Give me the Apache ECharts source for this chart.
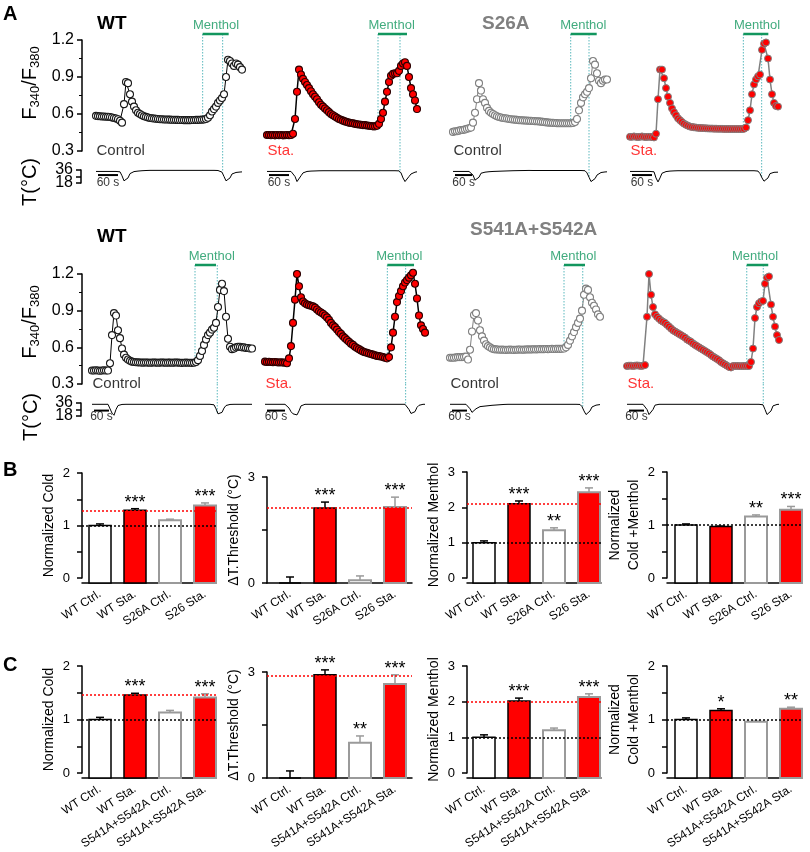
<!DOCTYPE html>
<html><head><meta charset="utf-8">
<script src="https://cdn.jsdelivr.net/npm/echarts@6/dist/echarts.min.js"></script>
<style>html,body{margin:0;padding:0;background:#fff}#c{width:810px;height:852px}</style>
</head><body><div id="c"></div>
<script>
// ================= DATA =================
// Panel A: F340/F380 ratio traces and bath temperature (one value per sample)
const secPerSample = [6, 6, 7, 6, 8, 6.67, 8, 8];
const mentholOn     = [320, 333, 412, 340, 412, 408, 456, 479];
const mentholOff    = [398, 420, 503, 415, 496, 497, 540, 565];
const coldPulse2    = [380, 399, 476, 395, 501, 469, 531, 545];
const mentholLabelT = [360, 374, 456, 381, 479, 448, 493, 512];
const ratioTicks = [0.3, 0.6, 0.9, 1.2];
const tempTicks = [18, 36];

const ratioWTctrl1 = [0.585,0.583,0.582,0.58,0.58,0.578,0.578,0.576,0.572,0.568,
0.564,0.558,0.545,0.53,0.68,0.86,0.85,0.76,0.70,0.66,
0.63,0.61,0.60,0.59,0.582,0.577,0.572,0.568,0.565,0.563,
0.561,0.56,0.558,0.557,0.556,0.555,0.555,0.554,0.553,0.553,
0.552,0.552,0.551,0.551,0.55,0.55,0.55,0.55,0.551,0.551,
0.552,0.552,0.553,0.554,0.556,0.56,0.57,0.59,0.62,0.64,
0.66,0.69,0.71,0.73,0.76,0.90,1.04,1.03,1.01,0.99,
1.01,1.0,0.98,0.96];
const tempWTctrl1 = [34,34,34,34,34,34,34,34,34,34,
34,34,33.5,28,21,19,25,31,33,33.8,
34.2,34.5,34.8,35,35.2,35.3,35.4,35.5,35.5,35.5,
35.5,35.5,35.5,35.5,35.5,35.5,35.5,35.5,35.5,35.5,
35.5,35.5,35.5,35.5,35.5,35.5,35.5,35.5,35.5,35.5,
35.5,35.5,35.5,35.5,35.5,35.5,35.5,35.5,35.5,35.5,
35.5,35.3,35,33,27,21,19,25,30.5,32,
32.6,33,33.2,33.4];

const ratioWTsta1 = [0.43,0.43,0.428,0.43,0.427,0.43,0.428,0.43,0.427,0.428,
0.43,0.428,0.43,0.44,0.56,0.78,0.96,0.92,0.885,0.86,
0.835,0.81,0.785,0.76,0.74,0.72,0.695,0.675,0.66,0.645,
0.63,0.615,0.60,0.59,0.58,0.57,0.56,0.553,0.546,0.54,
0.535,0.53,0.527,0.524,0.52,0.517,0.515,0.513,0.51,0.51,
0.507,0.505,0.503,0.50,0.50,0.505,0.52,0.56,0.61,0.70,
0.78,0.86,0.91,0.925,0.93,0.93,0.95,0.99,1.01,1.02,
0.99,0.90,0.81,0.76,0.71,0.64];
const tempWTsta1 = [34,34,34,34,34,34,34,34,34,34,
34,34,34,33,27,20,21,28,32,33.5,
34,34.3,34.5,34.6,34.7,34.8,34.9,35,35,35,
35,35,35,35,35,35,35,35,35,35,
35,35,35,35,35,35,35,35,35,35,
35,35,35,35,35,35,35,35,35,35,
35,35,35,35,35,35,34.8,32,25,20,
22,27,30.5,32,33,33.5];

const ratioS26Actrl = [0.455,0.46,0.46,0.465,0.47,0.47,0.475,0.48,0.485,0.49,
0.53,0.61,0.72,0.85,0.79,0.72,0.69,0.65,0.625,0.61,
0.60,0.59,0.582,0.576,0.572,0.568,0.565,0.563,0.56,0.558,
0.556,0.554,0.552,0.55,0.549,0.548,0.547,0.546,0.545,0.544,
0.543,0.542,0.541,0.54,0.538,0.536,0.534,0.532,0.53,0.529,
0.528,0.527,0.526,0.525,0.525,0.525,0.525,0.525,0.525,0.525,
0.527,0.535,0.56,0.63,0.69,0.735,0.76,0.78,0.81,0.89,
1.03,1.0,0.93,0.87,0.85,0.87,0.88,0.88];
const tempS26Actrl = [34,34,34,34,34,34,34,34,34,33.5,
29,22,20,26,31.5,32.5,33,33.3,33.6,33.8,
34,34.1,34.2,34.3,34.4,34.5,34.6,34.7,34.8,34.9,
35,35,35.1,35.1,35.2,35.2,35.3,35.3,35.4,35.4,
35.3,35.3,35.3,35.3,35.3,35.3,35.3,35.3,35.3,35.3,
35.3,35.3,35.3,35.3,35.3,35.3,35.3,35.3,35.3,35.3,
35.3,35.3,35.3,35.3,35.3,35.3,35,32,26,20,
19.5,24,29,31.5,32.5,33,33.3,33.5];

const ratioS26Asta = [0.415,0.415,0.418,0.415,0.413,0.415,0.418,0.415,0.413,0.415,
0.415,0.413,0.41,0.44,0.72,0.96,0.96,0.89,0.81,0.74,
0.69,0.645,0.615,0.59,0.565,0.55,0.535,0.522,0.512,0.505,
0.498,0.495,0.492,0.49,0.488,0.487,0.486,0.485,0.484,0.483,
0.482,0.482,0.481,0.481,0.48,0.48,0.48,0.479,0.479,0.479,
0.478,0.478,0.478,0.478,0.478,0.478,0.478,0.48,0.49,0.55,
0.63,0.76,0.84,0.88,0.905,0.92,1.12,1.17,1.18,1.05,
0.88,0.76,0.69,0.665,0.66];
const tempS26Asta = [34,34,34,34,34,34,34,34,34,34,
34,34,33.5,25,19.5,25,31.5,33,33.8,34.2,
34.5,34.7,34.8,34.9,35,35,35,35,35,35,
35,35,35,35,35,35,35,35,35,35,
35,35,35,35,35,35,35,35,35,35,
35,35,35,35,35,35,35,35,35,35,
35,35,35,35,34.5,31,25,20.5,19.5,25,
31,32.3,32.8,33,33];

const ratioWTctrl2 = [0.41,0.41,0.412,0.41,0.408,0.41,0.412,0.41,0.41,0.47,
0.70,0.88,0.86,0.74,0.675,0.59,0.54,0.515,0.50,0.49,
0.483,0.48,0.478,0.477,0.476,0.475,0.475,0.476,0.475,0.474,
0.475,0.476,0.475,0.474,0.475,0.476,0.475,0.474,0.475,0.475,
0.474,0.475,0.476,0.475,0.474,0.473,0.474,0.475,0.474,0.474,
0.473,0.474,0.48,0.495,0.53,0.57,0.62,0.665,0.70,0.72,
0.745,0.76,0.80,0.93,1.07,1.12,1.06,0.85,0.67,0.605,
0.585,0.59,0.60,0.605,0.605,0.60,0.60,0.595,0.595,0.59,
0.59];
const tempWTctrl2 = [34.2,34.2,34.2,34.2,34.2,34.2,34.2,34.2,34.2,32,
22,19,27,32.5,33.5,34,34.2,34.2,34.2,34.2,
34.2,34.2,34.2,34.2,34.2,34.2,34.2,34.2,34.2,34.2,
34.2,34.2,34.2,34.2,34.2,34.2,34.2,34.2,34.2,34.2,
34.2,34.2,34.2,34.2,34.2,34.2,34.2,34.2,34.2,34.2,
34.2,34.2,34.2,34.2,34.2,34.2,34.2,34.2,34.2,34.2,
34.2,33.5,28,21,18.5,23,29,32.5,33.5,34,
34.2,34.2,34.2,34.2,34.2,34.2,34.2,34.2,34.2,34.2,
34.2];

const ratioWTsta2 = [0.483,0.48,0.482,0.48,0.478,0.48,0.478,0.476,0.478,0.475,
0.476,0.47,0.51,0.61,0.80,0.99,1.2,1.10,1.01,0.975,
0.96,0.95,0.945,0.94,0.935,0.925,0.91,0.895,0.885,0.875,
0.86,0.845,0.825,0.80,0.78,0.765,0.745,0.725,0.71,0.69,
0.675,0.66,0.645,0.63,0.62,0.605,0.595,0.585,0.575,0.565,
0.56,0.555,0.55,0.545,0.54,0.535,0.53,0.528,0.525,0.52,
0.515,0.51,0.52,0.60,0.72,0.85,0.97,1.02,1.06,1.10,
1.13,1.15,1.17,1.19,1.21,1.12,1.0,0.86,0.78,0.75,
0.72];
const tempWTsta2 = [34.2,34.2,34.2,34.2,34.2,34.2,34.2,34.2,34.2,34.2,
34.2,33.5,29,24,21,19,19.5,25,32,34,
34.2,34.2,34.2,34.2,34.2,34.2,34.2,34.2,34.2,34.2,
34.2,34.2,34.2,34.2,34.2,34.2,34.2,34.2,34.2,34.2,
34.2,34.2,34.2,34.2,34.2,34.2,34.2,34.2,34.2,34.2,
34.2,34.2,34.2,34.2,34.2,34.2,34.2,34.2,34.2,34.2,
34.2,34.2,34.2,34.2,34.2,34.2,34.2,34.2,34.2,34.2,
34.2,33,27,21.5,18.8,24,30,32.8,33.8,34.2,
34.2];

const ratioS541ctrl = [0.515,0.515,0.515,0.518,0.52,0.52,0.52,0.522,0.524,0.50,
0.58,0.73,0.865,0.88,0.82,0.74,0.69,0.655,0.625,0.61,
0.60,0.59,0.585,0.583,0.582,0.58,0.581,0.58,0.579,0.58,
0.581,0.58,0.579,0.58,0.581,0.582,0.58,0.581,0.582,0.583,
0.582,0.583,0.584,0.583,0.584,0.585,0.584,0.585,0.586,0.585,
0.586,0.587,0.586,0.587,0.588,0.587,0.588,0.59,0.60,0.62,
0.655,0.69,0.725,0.765,0.80,0.835,0.90,1.03,1.08,1.07,
1.01,0.965,0.94,0.91,0.87,0.85];
const tempS541ctrl = [34.2,34.2,34.2,34.2,34.2,34.2,34.2,34.2,34.2,33.5,
28,23,22,28,30.5,31,31.3,31.6,31.9,32.2,
32.5,32.8,33,33.2,33.4,33.6,33.8,34,34.2,34.2,
34.2,34.2,34.2,34.2,34.2,34.2,34.2,34.2,34.2,34.2,
34.2,34.2,34.2,34.2,34.2,34.2,34.2,34.2,34.2,34.2,
34.2,34.2,34.2,34.2,34.2,34.2,34.2,34.2,34.2,34.2,
34.2,34.2,34.2,34.2,34.2,34,31,25,20,19,
25,30.5,32,33,33.5,33.8];

const ratioS541sta = [0.447,0.45,0.45,0.448,0.45,0.452,0.45,0.448,0.45,0.455,
0.85,1.2,1.03,0.93,0.87,0.85,0.835,0.82,0.81,0.80,
0.785,0.77,0.755,0.74,0.73,0.72,0.71,0.70,0.69,0.68,
0.665,0.655,0.645,0.632,0.62,0.61,0.60,0.59,0.58,0.57,
0.56,0.55,0.537,0.525,0.515,0.505,0.495,0.48,0.47,0.46,
0.45,0.44,0.435,0.447,0.447,0.448,0.447,0.446,0.447,0.448,
0.447,0.447,0.48,0.59,0.84,0.93,0.96,0.975,0.98,1.12,
1.17,1.18,0.95,0.85,0.77,0.70,0.66];
const tempS541sta = [34.2,34.2,34.2,34.2,34.2,34.2,34.2,34.2,34.2,33.5,
27,20,19.5,27,33,34,34.2,34.2,34.2,34.2,
34.2,34.2,34.2,34.2,34.2,34.2,34.2,34.2,34.2,34.2,
34.2,34.2,34.2,34.2,34.2,34.2,34.2,34.2,34.2,34.2,
34.2,34.2,34.2,34.2,34.2,34.2,34.2,34.2,34.2,34.2,
34.2,34.2,34.2,33.2,34.2,34.2,34.2,34.2,34.2,34.2,
34.2,34.2,34.2,34.2,34.2,34.2,34.2,34.2,33.5,27,
20,18.8,25,32,33.5,34,34.2];

// Panels B and C: bar charts (mean, s.e.m.)
const catB = ['WT Ctrl.', 'WT Sta.', 'S26A Ctrl.', 'S26 Sta.'];
const catC = ['WT Ctrl.', 'WT Sta.', 'S541A+S542A Ctrl.', 'S541A+S542A Sta.'];

const coldB = [1.0, 1.29, 1.10, 1.38];      const coldBerr = [0.03, 0.03, 0.02, 0.05];
const dThrB = [0.0, 2.12, 0.08, 2.15];      const dThrBerr = [0.17, 0.17, 0.12, 0.28];
const menthB = [1.0, 2.10, 1.35, 2.43];     const menthBerr = [0.05, 0.08, 0.07, 0.12];
const coldMenthB = [1.0, 0.97, 1.16, 1.29]; const coldMenthBerr = [0.02, 0.01, 0.03, 0.06];

const coldC = [1.0, 1.46, 1.13, 1.41];      const coldCerr = [0.04, 0.03, 0.04, 0.07];
const dThrC = [0.0, 2.92, 1.0, 2.66];       const dThrCerr = [0.2, 0.14, 0.19, 0.26];
const menthC = [1.0, 2.02, 1.2, 2.13];      const menthCerr = [0.07, 0.08, 0.06, 0.09];
const coldMenthC = [1.0, 1.17, 0.96, 1.2];  const coldMenthCerr = [0.03, 0.03, 0.01, 0.03];

const starsColdB = ['', '***', '', '***'];
const starsDThrB = ['', '***', '', '***'];
const starsMenthB = ['', '***', '**', '***'];
const starsColdMenthB = ['', '', '**', '***'];
const starsColdC = ['', '***', '', '***'];
const starsDThrC = ['', '***', '**', '***'];
const starsMenthC = ['', '***', '', '***'];
const starsColdMenthC = ['', '*', '', '**'];

const staRefB = [1.29, 2.12, 2.10, null];
const ctrlRefB = [1.0, null, 1.0, 1.0];
const staRefC = [1.47, 2.90, 2.0, null];
const ctrlRefC = [1.0, null, 1.0, 1.0];

// ================= STYLE / LAYOUT =================
const FONT = '"Liberation Sans", Arial, Helvetica, sans-serif';
const GREEN = '#12965e';
const TEAL = '#5ab8bd';
const GREY = '#808080';
const BGREY = '#9a9a9a';
const RED = '#ff0000';

const ROWS = [
  {y12: 40, y03: 151, yBar: 34, y36: 170, y18: 183, scaleT: 29},
  {y12: 274, y03: 384, yBar: 265, y36: 403, y18: 416, scaleT: 25.5}
];
const PANEL_X0 = [96, 267, 453, 630, 92, 265, 450, 627];
const PX_PER_SAMPLE = 2;

const PANELS = [
  {ratio: ratioWTctrl1, temp: tempWTctrl1, cond: 'Control', style: 0},
  {ratio: ratioWTsta1, temp: tempWTsta1, cond: 'Sta.', style: 1},
  {ratio: ratioS26Actrl, temp: tempS26Actrl, cond: 'Control', style: 2},
  {ratio: ratioS26Asta, temp: tempS26Asta, cond: 'Sta.', style: 3},
  {ratio: ratioWTctrl2, temp: tempWTctrl2, cond: 'Control', style: 0},
  {ratio: ratioWTsta2, temp: tempWTsta2, cond: 'Sta.', style: 1},
  {ratio: ratioS541ctrl, temp: tempS541ctrl, cond: 'Control', style: 2},
  {ratio: ratioS541sta, temp: tempS541sta, cond: 'Sta.', style: 3}
];
const TRACE_STYLE = [
  {line: '#000', lw: 1, fill: '#fff', border: '#1a1a1a', bw: 1.1},
  {line: '#000', lw: 1.5, fill: RED, border: '#2a0000', bw: 1.1},
  {line: GREY, lw: 1, fill: '#fff', border: GREY, bw: 1.1},
  {line: GREY, lw: 1.5, fill: RED, border: GREY, bw: 1.0}
];
const COND_COLOR = {'Control': '#000', 'Sta.': RED};

const grid = [], xAxis = [], yAxis = [], series = [];
function addGrid(g, xa, ya) {
  const k = grid.length;
  grid.push(g);
  xAxis.push(Object.assign({gridIndex: k}, xa));
  yAxis.push(Object.assign({gridIndex: k}, ya));
  return k;
}
const on = (g) => ({xAxisIndex: g, yAxisIndex: g, animation: false, silent: true});
const DOT = {color: TEAL, width: 1, type: [1.5, 1.5]};

PANELS.forEach((P, p) => {
  const r = ROWS[p < 4 ? 0 : 1];
  const dt = secPerSample[p];
  const N = P.ratio.length;
  const tMax = (N - 1) * dt;
  const w = (N - 1) * PX_PER_SAMPLE;
  const x0 = PANEL_X0[p];
  const fTop = 0.3 + 0.9 * (r.y03 - r.yBar) / (r.y03 - r.y12);
  const tTop = 18 + 18 * (r.y18 - r.y03) / (r.y18 - r.y36);
  const gF = addGrid({left: x0, top: r.yBar, width: w, height: r.y03 - r.yBar},
    {type: 'value', show: false, min: 0, max: tMax}, {type: 'value', show: false, min: 0.3, max: fTop});
  const gT = addGrid({left: x0, top: r.y03, width: w, height: r.y18 - r.y03},
    {type: 'value', show: false, min: 0, max: tMax}, {type: 'value', show: false, min: 18, max: tTop});
  const at = (arr, t) => arr[Math.min(arr.length - 1, Math.max(0, Math.round(t / dt)))];
  const st = TRACE_STYLE[P.style];

  series.push(Object.assign(on(gT), {type: 'line', data: P.temp.map((v, i) => [i * dt, v]), symbol: 'none',
    lineStyle: {color: '#000', width: 1}, z: 2}));
  series.push(Object.assign(on(gF), {type: 'line', symbol: 'none', clip: false, z: 1, lineStyle: DOT,
    data: [[mentholOn[p], fTop], [mentholOn[p], at(P.ratio, mentholOn[p])]]}));
  series.push(Object.assign(on(gF), {type: 'line', symbol: 'none', clip: false, z: 1, lineStyle: DOT,
    data: [[coldPulse2[p], fTop], [coldPulse2[p], 0.3]]}));
  series.push(Object.assign(on(gT), {type: 'line', symbol: 'none', clip: false, z: 1, lineStyle: DOT,
    data: [[coldPulse2[p], tTop], [coldPulse2[p], at(P.temp, coldPulse2[p])]]}));
  series.push(Object.assign(on(gF), {type: 'line', data: P.ratio.map((v, i) => [i * dt, v]),
    symbol: 'circle', symbolSize: 7, showAllSymbol: true, clip: false, z: 3,
    lineStyle: {color: st.line, width: st.lw},
    itemStyle: {color: st.fill, borderColor: st.border, borderWidth: st.bw}}));
  series.push(Object.assign(on(gF), {type: 'line', symbol: 'none', clip: false, z: 4,
    data: [[mentholOn[p], fTop], [mentholOff[p], fTop]], lineStyle: {color: GREEN, width: 2.5}}));
  series.push(Object.assign(on(gF), {type: 'scatter', symbolSize: 1, clip: false, z: 4,
    itemStyle: {color: 'rgba(0,0,0,0)'}, data: [[mentholLabelT[p], fTop]],
    label: {show: true, position: 'top', distance: 2, formatter: 'Menthol', color: GREEN, fontSize: 13, fontFamily: FONT}}));
  series.push(Object.assign(on(gT), {type: 'line', symbol: 'none', clip: false, z: 4,
    data: [[dt, r.scaleT], [dt + 60, r.scaleT]], lineStyle: {color: '#000', width: 2}}));
  series.push(Object.assign(on(gT), {type: 'scatter', symbolSize: 1, clip: false, z: 4,
    itemStyle: {color: 'rgba(0,0,0,0)'}, data: [[dt + 30, r.scaleT]],
    label: {show: true, position: 'bottom', distance: p < 4 ? 1 : 0, formatter: '60 s', color: '#000', fontSize: 12, fontFamily: FONT}}));
  series.push(Object.assign(on(gF), {type: 'scatter', symbolSize: 1, clip: false, z: 4,
    itemStyle: {color: 'rgba(0,0,0,0)'}, data: [[0, 0.3]],
    label: {show: true, position: 'right', distance: 0, formatter: P.cond, color: COND_COLOR[P.cond], fontSize: 15, fontFamily: FONT}}));

  if (p === 0 || p === 4) {
    addGrid({left: 82, top: r.y12, width: 10, height: r.y03 - r.y12},
      {type: 'value', show: false, min: 0, max: 1},
      {type: 'value', min: ratioTicks[0], max: ratioTicks[ratioTicks.length - 1], interval: 0.3,
       axisLine: {show: true, lineStyle: {color: '#000', width: 1.5}},
       axisTick: {show: true, length: 5, lineStyle: {color: '#000', width: 1.5}},
       minorTick: {show: true, splitNumber: 2, length: 3, lineStyle: {color: '#000', width: 1}},
       splitLine: {show: false}, minorSplitLine: {show: false},
       axisLabel: {fontSize: 16, margin: 8, color: '#000', fontFamily: FONT, formatter: (v) => v.toFixed(1)}});
    addGrid({left: 81, top: r.y36, width: 10, height: r.y18 - r.y36},
      {type: 'value', show: false, min: 0, max: 1},
      {type: 'value', min: tempTicks[0], max: tempTicks[1], interval: 9,
       axisLine: {show: true, lineStyle: {color: '#000', width: 1.5}},
       axisTick: {show: true, length: 5, lineStyle: {color: '#000', width: 1.5}},
       splitLine: {show: false},
       axisLabel: {fontSize: 16, margin: 8, color: '#000', fontFamily: FONT,
         formatter: (v) => tempTicks.indexOf(v) >= 0 ? String(v) : ''}});
  }
});

// ---------- bar charts ----------
const BAR_LAYOUT = [
  {axisX: 82, top: 473, zeroY: 578, lineY: 583, barLeft: 82.5, xEnd: 216, yMax: 2, interval: 1, minor: true},
  {axisX: 267, top: 477, zeroY: 583, lineY: 583, barLeft: 272.5, xEnd: 412, yMax: 3, interval: 1.5, minor: false},
  {axisX: 467, top: 472, zeroY: 578, lineY: 583, barLeft: 466.5, xEnd: 601, yMax: 3, interval: 1, minor: false},
  {axisX: 667, top: 472, zeroY: 578, lineY: 583, barLeft: 668.5, xEnd: 802, yMax: 2, interval: 1, minor: true},
  {axisX: 82, top: 666, zeroY: 773, lineY: 778, barLeft: 82.5, xEnd: 216, yMax: 2, interval: 1, minor: true},
  {axisX: 267, top: 672, zeroY: 778, lineY: 778, barLeft: 272.5, xEnd: 412, yMax: 3, interval: 1.5, minor: false},
  {axisX: 467, top: 666, zeroY: 773, lineY: 778, barLeft: 466.5, xEnd: 601, yMax: 3, interval: 1, minor: false},
  {axisX: 667, top: 666, zeroY: 773, lineY: 778, barLeft: 668.5, xEnd: 802, yMax: 2, interval: 1, minor: true}
];
const BAR_PANELS = [
  {cats: catB, vals: coldB, errs: coldBerr, stars: starsColdB, title: 'Normalized Cold', sta: staRefB[0], ctrl: ctrlRefB[0]},
  {cats: catB, vals: dThrB, errs: dThrBerr, stars: starsDThrB, title: 'ΔT.Threshold (°C)', sta: staRefB[1], ctrl: ctrlRefB[1]},
  {cats: catB, vals: menthB, errs: menthBerr, stars: starsMenthB, title: 'Normalized Menthol', sta: staRefB[2], ctrl: ctrlRefB[2]},
  {cats: catB, vals: coldMenthB, errs: coldMenthBerr, stars: starsColdMenthB, title: 'Normalized\nCold +Menthol', sta: staRefB[3], ctrl: ctrlRefB[3]},
  {cats: catC, vals: coldC, errs: coldCerr, stars: starsColdC, title: 'Normalized Cold', sta: staRefC[0], ctrl: ctrlRefC[0]},
  {cats: catC, vals: dThrC, errs: dThrCerr, stars: starsDThrC, title: 'ΔT.Threshold (°C)', sta: staRefC[1], ctrl: ctrlRefC[1]},
  {cats: catC, vals: menthC, errs: menthCerr, stars: starsMenthC, title: 'Normalized Menthol', sta: staRefC[2], ctrl: ctrlRefC[2]},
  {cats: catC, vals: coldMenthC, errs: coldMenthCerr, stars: starsColdMenthC, title: 'Normalized\nCold +Menthol', sta: staRefC[3], ctrl: ctrlRefC[3]}
];
const BAR_FILL = ['#fff', RED, '#fff', RED];
const BAR_STROKE = ['#000', '#000', BGREY, BGREY];
const BAR_LW = [1.5, 1.5, 2, 2];
const BAR_W = 22;
const BAND = 35;

BAR_PANELS.forEach((B, b) => {
  const L = BAR_LAYOUT[b];
  const gD = addGrid({left: L.axisX, top: L.top, width: L.xEnd - L.axisX, height: L.zeroY - L.top},
    {type: 'value', min: 0, max: 1, offset: L.lineY - L.zeroY,
     axisLine: {show: true, onZero: false, lineStyle: {color: '#000', width: 1.5}},
     axisTick: {show: false}, axisLabel: {show: false}, splitLine: {show: false}},
    {type: 'value', min: 0, max: L.yMax, interval: L.interval,
     axisLine: {show: true, onZero: false, lineStyle: {color: '#000', width: 1.5}},
     axisTick: {show: true, length: 5, lineStyle: {color: '#000', width: 1.5}},
     minorTick: {show: L.minor, splitNumber: 2, length: 5, lineStyle: {color: '#000', width: 1.5}},
     splitLine: {show: false}, minorSplitLine: {show: false},
     axisLabel: {fontSize: 13, margin: 12, color: '#000', fontFamily: FONT,
       formatter: (v) => (Math.abs(v - Math.round(v)) > 1e-6) ? '' : String(Math.round(v))},
     name: B.title, nameLocation: 'middle', nameRotate: 90, nameGap: 21,
     nameTextStyle: {fontSize: 14, color: '#000', fontFamily: FONT, lineHeight: 19}});
  const refs = [];
  if (B.sta != null) refs.push({yAxis: B.sta, lineStyle: {color: RED, type: [2, 2], width: 1.5}});
  if (B.ctrl != null) refs.push({yAxis: B.ctrl, lineStyle: {color: '#000', type: [2, 2], width: 1.5}});
  series.push(Object.assign(on(gD), {type: 'line', data: [], symbol: 'none', z: 10,
    markLine: {silent: true, symbol: 'none', animation: false, label: {show: false}, data: refs}}));

  const gB = addGrid({left: L.barLeft, top: L.top, width: BAND * B.cats.length, height: L.lineY - L.top},
    {type: 'category', data: B.cats, axisLine: {show: false}, axisTick: {show: false}, splitLine: {show: false},
     axisLabel: {interval: 0, rotate: 33, fontSize: 12, margin: 10, color: '#000', fontFamily: FONT}},
    {type: 'value', show: false, min: -L.yMax * (L.lineY - L.zeroY) / (L.zeroY - L.top), max: L.yMax});
  series.push(Object.assign(on(gB), {type: 'custom', clip: false, z: 3,
    data: B.vals.map((v, i) => [i, v, B.errs[i]]),
    encode: {x: 0, y: 1},
    renderItem: (params, api) => {
      const i = params.dataIndex;
      const v = api.value(1), e = api.value(2);
      const pv = api.coord([i, v]);
      const pe = api.coord([i, v + e]);
      const yb = params.coordSys.y + params.coordSys.height;
      const cx = pv[0];
      return {type: 'group', children: [
        {type: 'rect', shape: {x: cx - BAR_W / 2, y: pv[1], width: BAR_W, height: yb - pv[1]},
         style: {fill: BAR_FILL[i], stroke: BAR_STROKE[i], lineWidth: BAR_LW[i]}},
        {type: 'line', shape: {x1: cx, y1: pv[1], x2: cx, y2: pe[1]}, style: {stroke: BAR_STROKE[i], lineWidth: 1.5}},
        {type: 'line', shape: {x1: cx - 4, y1: pe[1], x2: cx + 4, y2: pe[1]}, style: {stroke: BAR_STROKE[i], lineWidth: 1.5}},
        {type: 'text', style: {text: B.stars[i], x: cx, y: pe[1] + 3, textAlign: 'center', textVerticalAlign: 'bottom',
          align: 'center', verticalAlign: 'bottom', font: '18px ' + FONT, fill: '#000'}}
      ]};
    }}));
});

// ---------- static texts ----------
function txt(text, x, y, font, fill, align, rot) {
  return {type: 'text', x: x, y: y, rotation: rot || 0, silent: true,
    style: {text: text, font: font, fill: fill || '#000', textAlign: align || 'left', textVerticalAlign: 'middle',
            align: align || 'left', verticalAlign: 'middle'}};
}
function ratioTitle(x, y) {
  return {type: 'text', x: x, y: y, rotation: Math.PI / 2, silent: true,
    style: {text: '{a|F}{b|340}{a|/F}{b|380}', fill: '#000', textAlign: 'center', textVerticalAlign: 'middle',
      align: 'center', verticalAlign: 'middle',
      rich: {a: {fontSize: 20, fontFamily: FONT, lineHeight: 24, fill: '#000', color: '#000'},
             b: {fontSize: 13, fontFamily: FONT, lineHeight: 14, verticalAlign: 'bottom', fill: '#000', color: '#000'}}}};
}
const graphic = [
  txt('A', 3, 14, 'bold 20px ' + FONT),
  txt('B', 3, 470, 'bold 20px ' + FONT),
  txt('C', 3, 665, 'bold 20px ' + FONT),
  txt('WT', 97, 24, 'bold 19px ' + FONT),
  txt('S26A', 482, 24, 'bold 19px ' + FONT, GREY),
  txt('WT', 97, 237, 'bold 19px ' + FONT),
  txt('S541A+S542A', 470, 230, 'bold 19px ' + FONT, GREY),
  ratioTitle(30, 83),
  ratioTitle(30, 322),
  txt('T(°C)', 30, 182, '20px ' + FONT, '#000', 'center', Math.PI / 2),
  txt('T(°C)', 31, 417, '20px ' + FONT, '#000', 'center', Math.PI / 2)
];

const chart = echarts.init(document.getElementById('c'), null, {renderer: 'canvas'});
chart.setOption({
  animation: false,
  backgroundColor: '#fff',
  textStyle: {fontFamily: FONT},
  grid: grid, xAxis: xAxis, yAxis: yAxis, series: series, graphic: graphic
});
</script></body></html>
